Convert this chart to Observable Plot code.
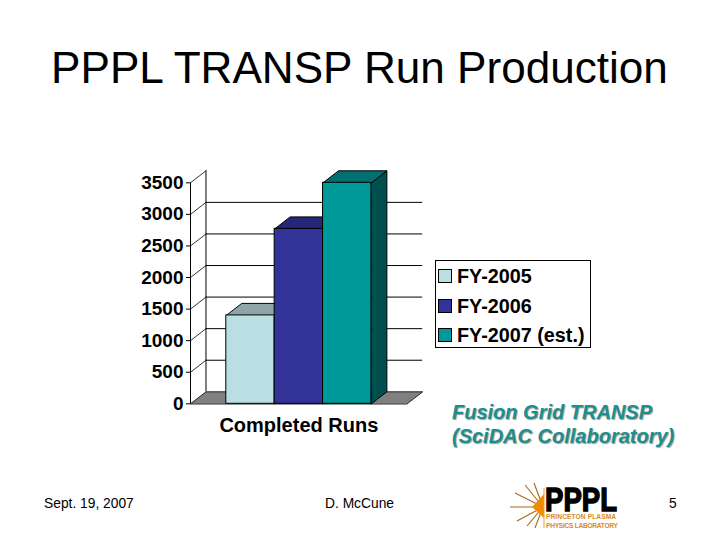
<!DOCTYPE html>
<html><head><meta charset="utf-8">
<script src="https://cdn.jsdelivr.net/npm/d3@7"></script>
<script src="https://cdn.jsdelivr.net/npm/@observablehq/plot@0.6"></script>
<style>
html,body{margin:0;padding:0;background:#fff}
#slide{position:relative;width:720px;height:540px;overflow:hidden;font-family:"Liberation Sans",Arial,sans-serif;color:#000}
#slide svg.plot{position:absolute;left:0;top:0}
.t{position:absolute;white-space:nowrap}
#title{left:0;width:719px;text-align:center;top:41px;font-size:44.1px;line-height:54px}
#legend{position:absolute;left:435px;top:260px;width:154px;height:86px;border:1px solid #000;font-weight:700;font-size:19.8px;background:#fff}
#legend .row{position:absolute;left:2px;height:20px;line-height:20px;white-space:nowrap}
#legend i{display:inline-block;width:12px;height:12px;border:1px solid #000;margin-right:5px;vertical-align:0px}
#grid{left:452px;top:400px;font:italic 700 20px/24px "Liberation Sans",Arial,sans-serif;color:#1c9090;text-shadow:1px 1px 1px #999}
.foot{font-size:13.8px;top:496px}
</style></head><body><div id="slide">
<div class="t" id="title">PPPL TRANSP Run Production</div>
<div id="legend"></div>
<div class="t" id="grid">Fusion Grid TRANSP<br>(SciDAC Collaboratory)</div>
<div class="t foot" style="left:44px">Sept. 19, 2007</div>
<div class="t foot" style="left:325px">D. McCune</div>
<div class="t foot" style="left:669px">5</div>
<svg style="position:absolute;left:505px;top:480px;overflow:visible" width="125" height="50" viewBox="0 0 125 50">
  <g stroke="#a86a10" stroke-width="1.1">
    <path d="M38 27L5 27M38 27L10 13M38 27L12 41M38 27L20 5M38 27L22 46M38 27L29 3M38 27L30 48"/>
  </g>
  <path d="M39 14L27 27L39 38Z" fill="#f08c00"/>
  <path d="M39 8V48" stroke="#e0a040" stroke-width="1"/>
  <text x="40" y="31" font-family="Liberation Sans" font-weight="700" font-size="33" textLength="72" lengthAdjust="spacingAndGlyphs" stroke="#000" stroke-width="1.4">PPPL</text>
  <g font-family="Liberation Sans" font-weight="700" font-size="6.6" fill="#d98a20">
    <text x="41" y="39" textLength="70" lengthAdjust="spacing">PRINCETON PLASMA</text>
    <text x="41" y="48" textLength="72" lengthAdjust="spacing">PHYSICS LABORATORY</text>
  </g>
</svg>
</div>
<script>
const categories = ["FY-2005", "FY-2006", "FY-2007 (est.)"];
const runs = [1400, 2770, 3500];
const frontColors = ["#b9dfe3", "#333399", "#009999"];
const topColors = ["#8fa6a9", "#262678", "#007070"];
const sideColors = ["#5f7a7d", "#1c1c5c", "#004f4f"];
const yTicks = [0, 500, 1000, 1500, 2000, 2500, 3000, 3500];
const groupLabel = "Completed Runs";

// 3-D projection depth, in data units of the two scales
const dx = 0.32, dy = 190;
const xLeft = -0.74, xRight = 3.74, yMax = 3500;

const bars = categories.map((c, i) => ({c, i, v: runs[i]}));
const poly = (pts, fill, extra = {}) => Plot.line(pts, {x: "x", y: "y", curve: "linear-closed", fill, stroke: "#000", strokeWidth: 1, ...extra});

const floor = [{x: xLeft, y: 0}, {x: xLeft + dx, y: dy}, {x: xRight + dx, y: dy}, {x: xRight, y: 0}];

const plot = Plot.plot({
  width: 720, height: 540,
  style: {background: "transparent", fontFamily: "'Liberation Sans',Arial,sans-serif"},
  x: {type: "linear", domain: [xLeft, xRight], range: [190, 406.7], axis: null},
  y: {type: "linear", domain: [0, yMax], range: [403.3, 182.3], axis: null},
  marks: [
    poly(floor, "#808080", {strokeWidth: 0.8}),
    // back wall gridlines
    Plot.ruleY(yTicks.slice(1, -1), {y: d => d + dy, x1: xLeft + dx, x2: xRight + dx, stroke: "#000", strokeWidth: 1}),
    // slanted side-wall gridlines
    ...yTicks.slice(1).map(t => Plot.line([{x: xLeft, y: t}, {x: xLeft + dx, y: t + dy}], {x: "x", y: "y", stroke: "#000", strokeWidth: 0.8})),
    Plot.ruleX([xLeft + dx], {y1: dy, y2: yMax + dy, stroke: "#000", strokeWidth: 1}),
    Plot.ruleX([xLeft], {y1: 0, y2: yMax, stroke: "#000", strokeWidth: 1}),
    Plot.axisY({anchor: "left", x: xLeft, ticks: yTicks, tickFormat: d => String(d), tickSize: 4, tickPadding: 3, fontSize: 19, fontWeight: 700, label: null, color: "#000"}),
    // bars: side, top, front
    ...bars.flatMap(b => [
      poly([{x: b.i + 1, y: 0}, {x: b.i + 1 + dx, y: dy}, {x: b.i + 1 + dx, y: b.v + dy}, {x: b.i + 1, y: b.v}], sideColors[b.i]),
      poly([{x: b.i, y: b.v}, {x: b.i + dx, y: b.v + dy}, {x: b.i + 1 + dx, y: b.v + dy}, {x: b.i + 1, y: b.v}], topColors[b.i])
    ]),
    ...bars.map(b => Plot.rect([b], {x1: d => d.i, x2: d => d.i + 1, y1: 0, y2: d => d.v, fill: frontColors[b.i], stroke: "#000", strokeWidth: 1})),
    Plot.text([groupLabel], {x: 1.5, y: 0, text: d => d, dy: 22, fontSize: 20, fontWeight: 700, fill: "#000"})
  ]
});
document.getElementById("slide").appendChild(plot);

const legend = document.getElementById("legend");
categories.forEach((c, i) => {
  const r = document.createElement("div");
  r.className = "row";
  r.style.top = (5 + i * 29.5) + "px";
  r.innerHTML = `<i style="background:${frontColors[i]}"></i>`;
  r.appendChild(document.createTextNode(c));
  legend.appendChild(r);
});
</script></body></html>
